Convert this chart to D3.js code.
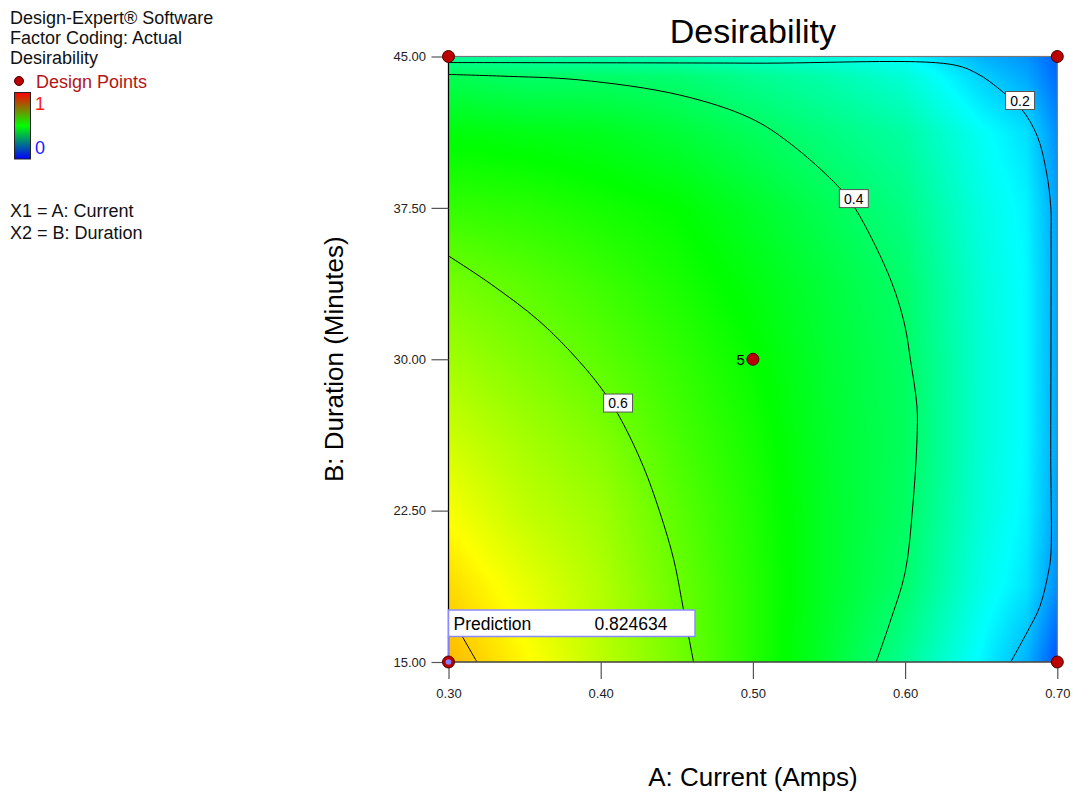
<!DOCTYPE html>
<html>
<head>
<meta charset="utf-8">
<script src="https://cdn.jsdelivr.net/npm/d3@7"></script>
<style>
  body { margin: 0; background: #fff; }
  svg { display: block; font-family: "Liberation Sans", Arial, sans-serif; }
</style>
</head>
<body>
<svg width="1073" height="793"></svg>
<script>
// Data
const current_values = [0.30, 0.35, 0.40, 0.45, 0.50, 0.55, 0.60, 0.65, 0.68, 0.70];
const duration_values = [15, 18.75, 22.5, 26.25, 30, 33.75, 37.5, 41.25, 44, 45];
// one row per duration, one column per current
const desirability_grid = [
    [0.820, 0.756, 0.686, 0.615, 0.535, 0.452, 0.357, 0.243, 0.175, 0.080],
    [0.786, 0.730, 0.675, 0.605, 0.535, 0.460, 0.395, 0.272, 0.225, 0.140],
    [0.743, 0.690, 0.655, 0.590, 0.530, 0.460, 0.405, 0.288, 0.240, 0.160],
    [0.700, 0.660, 0.625, 0.570, 0.520, 0.455, 0.410, 0.293, 0.245, 0.165],
    [0.658, 0.625, 0.590, 0.550, 0.505, 0.450, 0.405, 0.293, 0.245, 0.165],
    [0.615, 0.590, 0.560, 0.525, 0.485, 0.440, 0.395, 0.288, 0.245, 0.165],
    [0.550, 0.540, 0.520, 0.500, 0.460, 0.415, 0.370, 0.278, 0.240, 0.160],
    [0.490, 0.480, 0.470, 0.445, 0.410, 0.375, 0.340, 0.258, 0.220, 0.140],
    [0.420, 0.400, 0.400, 0.390, 0.360, 0.330, 0.290, 0.205, 0.165, 0.105],
    [0.350, 0.340, 0.330, 0.320, 0.300, 0.280, 0.250, 0.175, 0.145, 0.095]
];

// contour lines as [current, duration]
const contour_08 = [[0.300, 17.5], [0.3095, 16.21], [0.3187, 15.0]];
const contour_06 = [[0.300, 35.12], [0.327, 33.77], [0.360, 31.87], [0.386, 29.89], [0.403, 28.29],
    [0.414, 26.92], [0.428, 24.69], [0.439, 22.39], [0.448, 20.07], [0.454, 17.76], [0.461, 15.0]];
const contour_04 = [[0.300, 44.11], [0.334, 44.03], [0.386, 43.84], [0.452, 43.09], [0.498, 41.96],
    [0.524, 40.72], [0.557, 38.49], [0.567, 37.5], [0.584, 35.07], [0.5937, 33.29], [0.600, 31.61],
    [0.6035, 29.98], [0.6078, 27.65], [0.6078, 26.02], [0.605, 22.70], [0.600, 19.43], [0.590, 16.96],
    [0.581, 15.0]];
const contour_02 = [[0.300, 44.70], [0.500, 44.67], [0.630, 44.61], [0.647, 44.17], [0.664, 43.26],
    [0.677, 42.35], [0.687, 41.03], [0.693, 39.22], [0.6957, 37.56], [0.6959, 35.92], [0.6957, 25.52],
    [0.6957, 20.24], [0.6941, 19.42], [0.6886, 17.76], [0.6799, 16.44], [0.6694, 15.0]];
const contour_lines = [contour_08, contour_06, contour_04, contour_02];
const contour_labels = [
    { label: '0.6', a: 0.4114, b: 27.83 },
    { label: '0.4', a: 0.5663, b: 37.96 },
    { label: '0.2', a: 0.6755, b: 42.82 }
];

const design_points = [
    { a: 0.30, b: 15, count: 1 },
    { a: 0.30, b: 45, count: 1 },
    { a: 0.70, b: 15, count: 1 },
    { a: 0.70, b: 45, count: 1 },
    { a: 0.50, b: 30, count: 5 }
];
const prediction = { a: 0.30, b: 15, value: '0.824634' };

const x_ticks = [0.30, 0.40, 0.50, 0.60, 0.70];
const y_ticks = [15.00, 22.50, 30.00, 37.50, 45.00];

const legend_lines = ['Design-Expert\u00AE Software', 'Factor Coding: Actual', 'Desirability'];
const factor_lines = ['X1 = A: Current', 'X2 = B: Duration'];

// Constants
const svg = d3.select('svg');
const plot = { left: 448.5, right: 1057.3, top: 56.5, bottom: 662 };

const xScale = d3.scaleLinear().domain([0.3, 0.7]).range([plot.left, plot.right]);
const yScale = d3.scaleLinear().domain([15, 45]).range([plot.bottom, plot.top]);
const colorScale = d3.scaleLinear()
    .domain([0, 0.25, 0.5, 0.75, 1])
    .range(['#0000ff', '#00ffff', '#00ff00', '#ffff00', '#ff0000'])
    .clamp(true);

// value of the surface between grid nodes (bilinear)
const surface = (a, b) => {
    const i = Math.max(0, Math.min(current_values.length - 2, d3.bisectRight(current_values, a) - 1));
    const j = Math.max(0, Math.min(duration_values.length - 2, d3.bisectRight(duration_values, b) - 1));
    const tx = Math.max(0, Math.min(1, (a - current_values[i]) / (current_values[i + 1] - current_values[i])));
    const ty = Math.max(0, Math.min(1, (b - duration_values[j]) / (duration_values[j + 1] - duration_values[j])));
    const v00 = desirability_grid[j][i], v10 = desirability_grid[j][i + 1];
    const v01 = desirability_grid[j + 1][i], v11 = desirability_grid[j + 1][i + 1];
    return (v00 * (1 - tx) + v10 * tx) * (1 - ty) + (v01 * (1 - tx) + v11 * tx) * ty;
};

// Surface colours
const plot_w = Math.round(plot.right - plot.left);
const plot_h = Math.round(plot.bottom - plot.top);
const canvas = document.createElement('canvas');
canvas.width = plot_w;
canvas.height = plot_h;
const ctx = canvas.getContext('2d');
const img = ctx.createImageData(plot_w, plot_h);
for (let py = 0; py < plot_h; py++) {
    const b = yScale.invert(plot.top + py + 0.5);
    for (let px = 0; px < plot_w; px++) {
        const a = xScale.invert(plot.left + px + 0.5);
        const c = d3.rgb(colorScale(surface(a, b)));
        const k = (py * plot_w + px) * 4;
        img.data[k] = c.r; img.data[k + 1] = c.g; img.data[k + 2] = c.b; img.data[k + 3] = 255;
    }
}
ctx.putImageData(img, 0, 0);

svg.append('image')
    .attr('x', plot.left)
    .attr('y', plot.top)
    .attr('width', plot.right - plot.left)
    .attr('height', plot.bottom - plot.top)
    .attr('preserveAspectRatio', 'none')
    .attr('href', canvas.toDataURL());

svg.append('clipPath').attr('id', 'plot-clip')
    .append('rect')
    .attr('x', plot.left).attr('y', plot.top)
    .attr('width', plot.right - plot.left).attr('height', plot.bottom - plot.top);

// Contour lines
const line = d3.line()
    .x(d => xScale(d[0]))
    .y(d => yScale(d[1]))
    .curve(d3.curveCatmullRom.alpha(0.5));

svg.append('g')
    .attr('clip-path', 'url(#plot-clip)')
    .selectAll('path')
    .data(contour_lines)
    .enter().append('path')
    .attr('d', line)
    .attr('fill', 'none')
    .attr('stroke', '#000')
    .attr('stroke-width', 1);

// Contour labels
const labels = svg.append('g').selectAll('g')
    .data(contour_labels)
    .enter().append('g')
    .attr('transform', d => `translate(${xScale(d.a)},${yScale(d.b)})`);
labels.append('rect')
    .attr('x', -14.5).attr('y', -9)
    .attr('width', 29).attr('height', 18)
    .attr('fill', '#fff')
    .attr('stroke', '#555')
    .attr('stroke-width', 1);
labels.append('text')
    .attr('text-anchor', 'middle')
    .attr('dy', '0.36em')
    .style('font-size', '14px')
    .text(d => d.label);

// Frame
svg.append('rect')
    .attr('x', plot.left).attr('y', plot.top)
    .attr('width', plot.right - plot.left).attr('height', plot.bottom - plot.top)
    .attr('fill', 'none')
    .attr('stroke', '#777')
    .attr('stroke-width', 1.2);
svg.append('line')
    .attr('x1', plot.left).attr('x2', plot.left)
    .attr('y1', plot.top).attr('y2', plot.bottom)
    .attr('stroke', '#000').attr('stroke-width', 1.2);
svg.append('line')
    .attr('x1', plot.left).attr('x2', plot.right)
    .attr('y1', plot.bottom).attr('y2', plot.bottom)
    .attr('stroke', '#333').attr('stroke-width', 1.2);

// Axes
const xAxis = svg.append('g')
    .attr('transform', `translate(0,${plot.bottom})`)
    .call(d3.axisBottom(xScale).tickValues(x_ticks).tickFormat(d3.format('.2f'))
        .tickSize(17).tickSizeOuter(0).tickPadding(10));
const yAxis = svg.append('g')
    .attr('transform', `translate(${plot.left},0)`)
    .call(d3.axisLeft(yScale).tickValues(y_ticks).tickFormat(d3.format('.2f'))
        .tickSize(17).tickSizeOuter(0).tickPadding(5.5));
[xAxis, yAxis].forEach(ax => {
    ax.select('.domain').remove();
    ax.selectAll('line').attr('stroke', '#555').attr('stroke-width', 1.2);
    ax.selectAll('text')
        .attr('fill', '#222')
        .style('font-family', '"Liberation Sans", Arial, sans-serif')
        .style('font-size', '13px');
});

// Axis titles
svg.append('text')
    .attr('x', (plot.left + plot.right) / 2)
    .attr('y', 786)
    .attr('text-anchor', 'middle')
    .style('font-size', '26px')
    .text('A: Current (Amps)');
svg.append('text')
    .attr('transform', `translate(343,${(plot.top + plot.bottom) / 2}) rotate(-90)`)
    .attr('text-anchor', 'middle')
    .style('font-size', '26px')
    .text('B: Duration (Minutes)');

// Title
svg.append('text')
    .attr('x', (plot.left + plot.right) / 2)
    .attr('y', 42.5)
    .attr('text-anchor', 'middle')
    .style('font-size', '34px')
    .text('Desirability');

// Prediction flag
const px0 = xScale(prediction.a);
const py0 = yScale(prediction.b);
svg.append('line')
    .attr('x1', px0).attr('x2', px0)
    .attr('y1', py0 - 26).attr('y2', py0)
    .attr('stroke', '#8080ff').attr('stroke-width', 1.5);
svg.append('rect')
    .attr('x', px0).attr('y', py0 - 52)
    .attr('width', 246.5).attr('height', 26.5)
    .attr('fill', '#fff')
    .attr('stroke', '#8a8aff')
    .attr('stroke-width', 1.5);
svg.append('text')
    .attr('x', px0 + 5).attr('y', py0 - 32)
    .style('font-size', '17.5px')
    .text('Prediction');
svg.append('text')
    .attr('x', px0 + 146).attr('y', py0 - 32)
    .style('font-size', '17.5px')
    .text(prediction.value);

// Design points
svg.append('g').selectAll('circle')
    .data(design_points)
    .enter().append('circle')
    .attr('cx', d => xScale(d.a))
    .attr('cy', d => yScale(d.b))
    .attr('r', 6)
    .attr('fill', '#bb0000')
    .attr('stroke', '#4a0000')
    .attr('stroke-width', 1);
svg.append('g').selectAll('text')
    .data(design_points.filter(d => d.count > 1))
    .enter().append('text')
    .attr('x', d => xScale(d.a) - 8)
    .attr('y', d => yScale(d.b) + 6)
    .attr('text-anchor', 'end')
    .style('font-size', '15px')
    .text(d => d.count);
svg.append('circle')
    .attr('cx', px0).attr('cy', py0)
    .attr('r', 2.8)
    .attr('fill', '#8080ff');

// Legend (top left)
const legend = svg.append('g').style('font-size', '18px');
legend.selectAll('text.head')
    .data(legend_lines)
    .enter().append('text')
    .attr('class', 'head')
    .attr('x', 10)
    .attr('y', (d, i) => 23.5 + i * 20.4)
    .attr('fill', '#111')
    .text(d => d);
legend.append('circle')
    .attr('cx', 19).attr('cy', 81)
    .attr('r', 4.5)
    .attr('fill', '#bb0000')
    .attr('stroke', '#4a0000');
legend.append('text')
    .attr('x', 36).attr('y', 87.5)
    .attr('fill', '#b41414')
    .text('Design Points');

const grad = svg.append('defs').append('linearGradient')
    .attr('id', 'legend-grad')
    .attr('x1', 0).attr('x2', 0).attr('y1', 0).attr('y2', 1);
grad.append('stop').attr('offset', '0%').attr('stop-color', '#ff0000');
grad.append('stop').attr('offset', '50%').attr('stop-color', '#00ff00');
grad.append('stop').attr('offset', '100%').attr('stop-color', '#0000ff');
legend.append('rect')
    .attr('x', 14.5).attr('y', 92.5)
    .attr('width', 16).attr('height', 66.5)
    .attr('fill', 'url(#legend-grad)')
    .attr('stroke', '#222')
    .attr('stroke-width', 1);
legend.append('text')
    .attr('x', 35).attr('y', 109.5)
    .attr('fill', '#ff1a1a')
    .text('1');
legend.append('text')
    .attr('x', 35).attr('y', 153.5)
    .attr('fill', '#1a1aff')
    .text('0');
legend.selectAll('text.factor')
    .data(factor_lines)
    .enter().append('text')
    .attr('class', 'factor')
    .attr('x', 10)
    .attr('y', (d, i) => 217 + i * 21.5)
    .attr('fill', '#111')
    .text(d => d);
</script>
</body>
</html>
